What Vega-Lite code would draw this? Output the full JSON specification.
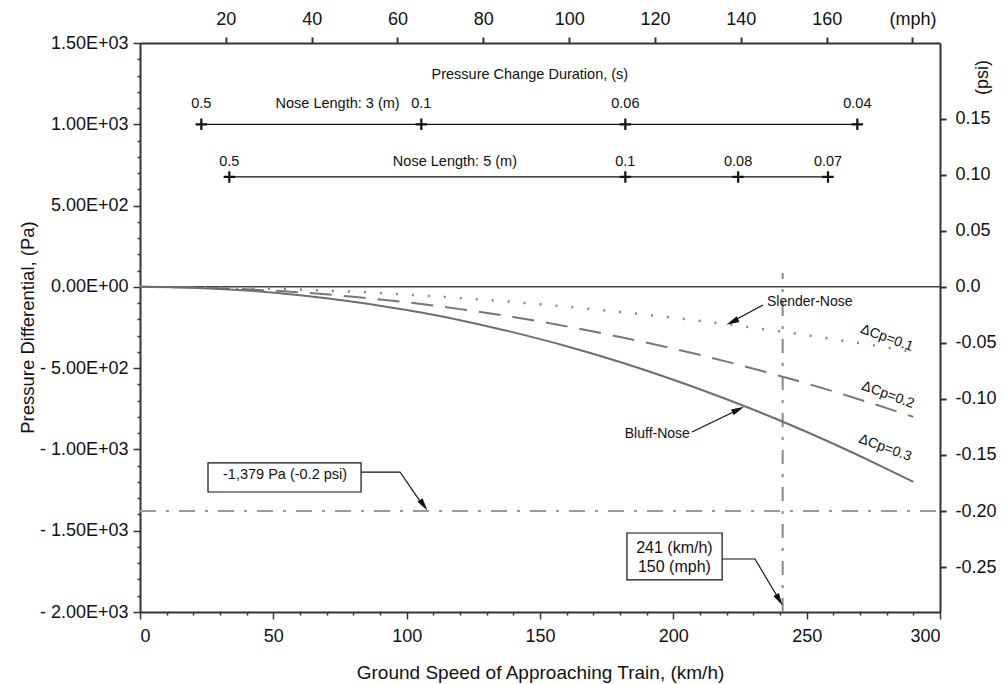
{
  "$schema": "https://vega.github.io/schema/vega-lite/v6.json",
  "width": 800,
  "height": 569,
  "autosize": "none",
  "padding": {"left": 140, "top": 43, "right": 64, "bottom": 72},
  "background": "white",
  "config": {
    "font": "Liberation Sans",
    "view": {"stroke": null},
    "axis": {"grid": false, "labelFont": "Liberation Sans", "titleFont": "Liberation Sans", "labelColor": "#111", "titleColor": "#111", "domainColor": "#333", "domainWidth": 2, "tickColor": "#333", "tickWidth": 1.5, "labelFontSize": 18, "titleFontWeight": "normal"}
  },
  "datasets": {
    "cp01": [
      {"speed": 0, "pa": 0}, {"speed": 20, "pa": -2}, {"speed": 40, "pa": -8}, {"speed": 60, "pa": -17}, {"speed": 80, "pa": -30}, {"speed": 100, "pa": -48}, {"speed": 120, "pa": -69}, {"speed": 140, "pa": -93}, {"speed": 160, "pa": -122}, {"speed": 180, "pa": -154}, {"speed": 200, "pa": -190}, {"speed": 220, "pa": -230}, {"speed": 240, "pa": -274}, {"speed": 260, "pa": -322}, {"speed": 280, "pa": -373}, {"speed": 290, "pa": -400}
    ],
    "cp02": [
      {"speed": 0, "pa": 0}, {"speed": 20, "pa": -4}, {"speed": 40, "pa": -15}, {"speed": 60, "pa": -34}, {"speed": 80, "pa": -61}, {"speed": 100, "pa": -95}, {"speed": 120, "pa": -137}, {"speed": 140, "pa": -186}, {"speed": 160, "pa": -243}, {"speed": 180, "pa": -308}, {"speed": 200, "pa": -380}, {"speed": 220, "pa": -460}, {"speed": 240, "pa": -548}, {"speed": 260, "pa": -643}, {"speed": 280, "pa": -746}, {"speed": 290, "pa": -800}
    ],
    "cp03": [
      {"speed": 0, "pa": 0}, {"speed": 20, "pa": -6}, {"speed": 40, "pa": -23}, {"speed": 60, "pa": -51}, {"speed": 80, "pa": -91}, {"speed": 100, "pa": -143}, {"speed": 120, "pa": -205}, {"speed": 140, "pa": -280}, {"speed": 160, "pa": -365}, {"speed": 180, "pa": -462}, {"speed": 200, "pa": -571}, {"speed": 220, "pa": -691}, {"speed": 240, "pa": -822}, {"speed": 260, "pa": -965}, {"speed": 280, "pa": -1119}, {"speed": 290, "pa": -1200}
    ],
    "nosePoints": [
      {"nose": "3 m", "speed": 23, "pa": 1000}, {"nose": "3 m", "speed": 105.5, "pa": 1000}, {"nose": "3 m", "speed": 182, "pa": 1000}, {"nose": "3 m", "speed": 269, "pa": 1000},
      {"nose": "5 m", "speed": 33.5, "pa": 676}, {"nose": "5 m", "speed": 182, "pa": 676}, {"nose": "5 m", "speed": 224.3, "pa": 676}, {"nose": "5 m", "speed": 258, "pa": 676}
    ],
    "noseLabels": [
      {"speed": 23, "pa": 1125, "label": "0.5"}, {"speed": 105.5, "pa": 1125, "label": "0.1"}, {"speed": 182, "pa": 1125, "label": "0.06"}, {"speed": 269, "pa": 1125, "label": "0.04"},
      {"speed": 33.5, "pa": 768, "label": "0.5"}, {"speed": 182, "pa": 768, "label": "0.1"}, {"speed": 224.3, "pa": 768, "label": "0.08"}, {"speed": 258, "pa": 768, "label": "0.07"},
      {"speed": 74.1, "pa": 1125, "label": "Nose Length: 3 (m)"}, {"speed": 118.1, "pa": 768, "label": "Nose Length: 5 (m)"},
      {"speed": 146.2, "pa": 1303, "label": "Pressure Change Duration, (s)"}
    ],
    "cpLabels": [
      {"speed": 280.1, "pa": -315, "label": "ΔCp=0.1"},
      {"speed": 280.5, "pa": -665, "label": "ΔCp=0.2"},
      {"speed": 279.4, "pa": -991, "label": "ΔCp=0.3"}
    ],
    "arrows": [
      {"arrow": "slender", "ord": 1, "speed": 233.6, "pa": -112}, {"arrow": "slender", "ord": 2, "speed": 223, "pa": -205},
      {"arrow": "bluff", "ord": 1, "speed": 207, "pa": -893}, {"arrow": "bluff", "ord": 2, "speed": 223.5, "pa": -762},
      {"arrow": "box1", "ord": 1, "speed": 82.9, "pa": -1139}, {"arrow": "box1", "ord": 2, "speed": 97.5, "pa": -1139}, {"arrow": "box1", "ord": 3, "speed": 105.5, "pa": -1330},
      {"arrow": "box2", "ord": 1, "speed": 218.3, "pa": -1674}, {"arrow": "box2", "ord": 2, "speed": 230.6, "pa": -1674}, {"arrow": "box2", "ord": 3, "speed": 239, "pa": -1905}
    ]
  },
  "layer": [
    {
      "encoding": {
        "x": {"field": "speed", "type": "quantitative", "scale": {"domain": [0, 300], "nice": false, "zero": false},
          "axis": {"orient": "bottom", "values": [0,10,20,30,40,50,60,70,80,90,100,110,120,130,140,150,160,170,180,190,200,210,220,230,240,250,260,270,280,290,300],
            "labelExpr": "datum.value % 50 == 0 ? datum.label : ''", "labelOverlap": false, "labelPadding": 8,
            "tickSize": {"condition": {"test": "datum.value % 50 == 0", "value": 7}, "value": 3},
            "title": "Ground Speed of Approaching Train, (km/h)", "titleFontSize": 19, "titleX": 400, "titleY": 60, "titleAlign": "center", "titleBaseline": "middle"}},
        "y": {"field": "pa", "type": "quantitative", "scale": {"domain": [-2000, 1500], "nice": false, "zero": false},
          "axis": {"orient": "left", "values": [-2000,-1900,-1800,-1700,-1600,-1500,-1400,-1300,-1200,-1100,-1000,-900,-800,-700,-600,-500,-400,-300,-200,-100,0,100,200,300,400,500,600,700,800,900,1000,1100,1200,1300,1400,1500],
            "labelExpr": "datum.value % 500 != 0 ? '' : datum.value == 0 ? '0.00E+00' : (datum.value < 0 ? '- ' : '') + (abs(datum.value) >= 1000 ? format(abs(datum.value)/1000, '.2f') + 'E+03' : format(abs(datum.value)/100, '.2f') + 'E+02')",
            "labelOverlap": false, "labelPadding": 5,
            "tickSize": {"condition": {"test": "datum.value % 500 == 0", "value": 7}, "value": 3},
            "title": "Pressure Differential, (Pa)", "titleFontSize": 18.5, "titleX": -113, "titleY": 284, "titleAngle": 270, "titleAlign": "center", "titleBaseline": "middle"}}
      },
      "layer": [
        {"data": {"values": [{"speed": 0, "speed2": 300, "pa": 0}]}, "mark": {"type": "rule", "color": "#444", "strokeWidth": 1.5}, "encoding": {"x2": {"field": "speed2"}}},
        {"data": {"values": [{"speed": 0, "speed2": 300, "pa": -1379}]}, "mark": {"type": "rule", "color": "#999", "strokeWidth": 2, "strokeDash": [16, 10, 3, 10]}, "encoding": {"x2": {"field": "speed2"}}},
        {"data": {"values": [{"speed": 241, "pa": -2000, "pa2": 85}]}, "mark": {"type": "rule", "color": "#888", "strokeWidth": 2, "strokeDash": [14, 10, 3, 10]}, "encoding": {"y2": {"field": "pa2"}}},
        {"data": {"name": "cp01"}, "mark": {"type": "line", "interpolate": "monotone", "color": "#888", "strokeWidth": 2.5, "strokeDash": [2, 14]}},
        {"data": {"name": "cp02"}, "mark": {"type": "line", "interpolate": "monotone", "color": "#777", "strokeWidth": 2, "strokeDash": [22, 12]}},
        {"data": {"name": "cp03"}, "mark": {"type": "line", "interpolate": "monotone", "color": "#6e6e6e", "strokeWidth": 2}},
        {"data": {"name": "nosePoints"}, "mark": {"type": "line", "color": "#111", "strokeWidth": 1.2}, "encoding": {"detail": {"field": "nose"}}},
        {"data": {"name": "nosePoints"}, "mark": {"type": "point", "shape": "M-1,0L1,0M0,-1L0,1", "filled": false, "stroke": "#111", "strokeWidth": 2.2, "size": 130, "opacity": 1}},
        {"data": {"name": "noseLabels"}, "mark": {"type": "text", "fontSize": 14.5, "color": "#111", "align": "center", "baseline": "middle"}, "encoding": {"text": {"field": "label"}}},
        {"data": {"name": "cpLabels"}, "mark": {"type": "text", "fontSize": 14, "color": "#111", "align": "center", "baseline": "middle", "angle": 20}, "encoding": {"text": {"field": "label"}}},
        {"data": {"values": [{"speed": 235.1, "pa": -93, "label": "Slender-Nose"}]}, "mark": {"type": "text", "fontSize": 14, "color": "#111", "align": "left", "baseline": "middle"}, "encoding": {"text": {"field": "label"}}},
        {"data": {"values": [{"speed": 206.2, "pa": -905, "label": "Bluff-Nose"}]}, "mark": {"type": "text", "fontSize": 14, "color": "#111", "align": "right", "baseline": "middle"}, "encoding": {"text": {"field": "label"}}},
        {"data": {"values": [{"speed": 25.5, "speed2": 82.9, "pa": -1083, "pa2": -1262}, {"speed": 182.6, "speed2": 218.3, "pa": -1514, "pa2": -1803}]}, "mark": {"type": "rect", "fill": "white", "stroke": "#111", "strokeWidth": 1.2}, "encoding": {"x2": {"field": "speed2"}, "y2": {"field": "pa2"}}},
        {"data": {"values": [{"speed": 54.4, "pa": -1157, "label": "-1,379 Pa (-0.2 psi)"}]}, "mark": {"type": "text", "fontSize": 14.5, "color": "#111", "align": "center", "baseline": "middle"}, "encoding": {"text": {"field": "label"}}},
        {"data": {"values": [{"speed": 200.4, "pa": -1606, "label": "241 (km/h)"}, {"speed": 200.4, "pa": -1723, "label": "150 (mph)"}]}, "mark": {"type": "text", "fontSize": 16, "color": "#111", "align": "center", "baseline": "middle"}, "encoding": {"text": {"field": "label"}}},
        {"data": {"name": "arrows"}, "mark": {"type": "line", "color": "#111", "strokeWidth": 1.2}, "encoding": {"detail": {"field": "arrow"}, "order": {"field": "ord"}}},
        {"data": {"values": [{"speed": 222.4, "pa": -213}]}, "mark": {"type": "point", "shape": "M0,-1L0.42,0.75L-0.42,0.75Z", "filled": true, "color": "#111", "opacity": 1, "size": 220, "angle": 244.7}},
        {"data": {"values": [{"speed": 224.0, "pa": -757}]}, "mark": {"type": "point", "shape": "M0,-1L0.42,0.75L-0.42,0.75Z", "filled": true, "color": "#111", "opacity": 1, "size": 220, "angle": 63.9}},
        {"data": {"values": [{"speed": 106.2, "pa": -1339}]}, "mark": {"type": "point", "shape": "M0,-1L0.42,0.75L-0.42,0.75Z", "filled": true, "color": "#111", "opacity": 1, "size": 220, "angle": 144.6}},
        {"data": {"values": [{"speed": 239.6, "pa": -1922}]}, "mark": {"type": "point", "shape": "M0,-1L0.42,0.75L-0.42,0.75Z", "filled": true, "color": "#111", "opacity": 1, "size": 220, "angle": 149.6}}
      ]
    },
    {
      "data": {"values": [{"mph": 0, "psi": 0}]},
      "mark": {"type": "point", "opacity": 0},
      "encoding": {
        "x": {"field": "mph", "type": "quantitative", "scale": {"domain": [0, 186.411], "nice": false, "zero": false},
          "axis": {"orient": "top", "values": [20, 40, 60, 80, 100, 120, 140, 160, 180], "labelExpr": "datum.value == 180 ? '(mph)' : datum.label", "tickSize": 6, "tickWidth": 2, "labelPadding": 9, "title": null}},
        "y": {"field": "psi", "type": "quantitative", "scale": {"domain": [-0.290076, 0.217557], "nice": false, "zero": false},
          "axis": {"orient": "right", "values": [-0.25, -0.2, -0.15, -0.1, -0.05, 0, 0.05, 0.1, 0.15],
            "labelExpr": "datum.value == 0 ? '0.0' : (datum.value < 0 ? '-' : '') + format(abs(datum.value), '.2f')",
            "tickSize": 6, "tickWidth": 2, "labelPadding": 9,
            "title": "(psi)", "titleFontSize": 18, "titleX": 42, "titleY": 34, "titleAngle": 270, "titleAlign": "center", "titleBaseline": "middle"}}
      }
    }
  ],
  "resolve": {"scale": {"x": "independent", "y": "independent"}, "axis": {"x": "independent", "y": "independent"}}
}
